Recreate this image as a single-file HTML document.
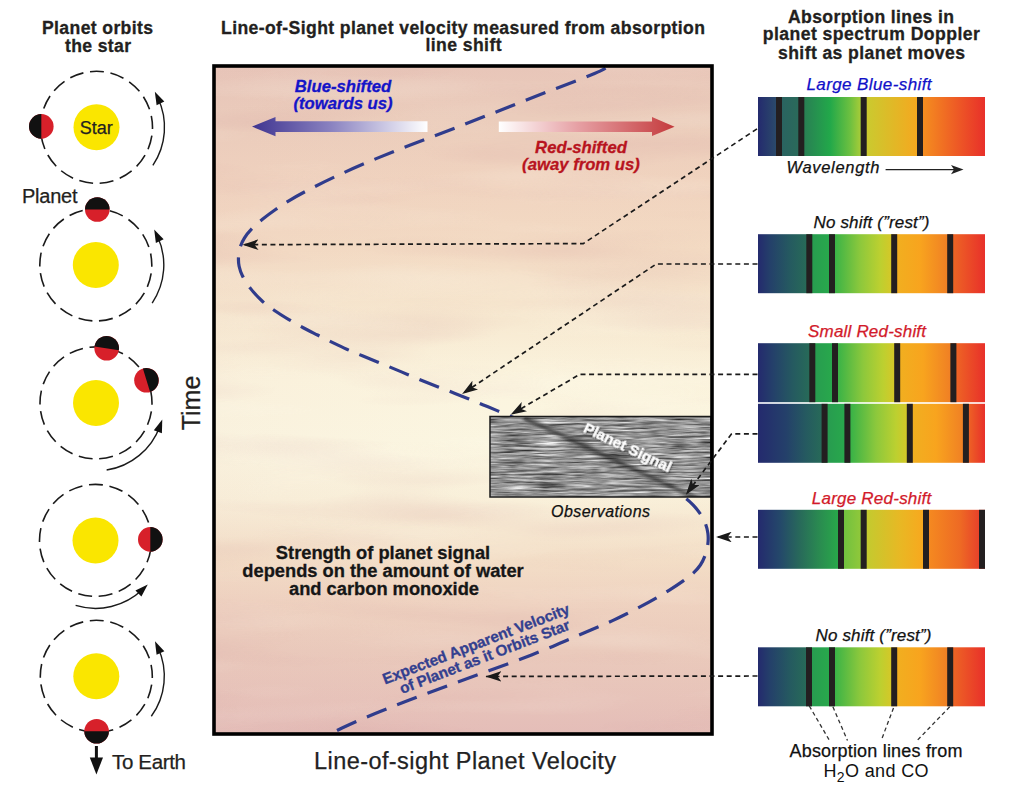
<!DOCTYPE html>
<html><head><meta charset="utf-8"><style>
html,body{margin:0;padding:0;background:#fff;}
svg{display:block;font-family:"Liberation Sans", sans-serif;}
</style></head><body>
<svg width="1024" height="792" viewBox="0 0 1024 792">
<rect width="1024" height="792" fill="#fff"/>
<defs>
<linearGradient id="spec" x1="0" x2="1" y1="0" y2="0">
<stop offset="0" stop-color="#242770"/>
<stop offset="0.10" stop-color="#253f6c"/>
<stop offset="0.22" stop-color="#2a6a5a"/>
<stop offset="0.33" stop-color="#25a34b"/>
<stop offset="0.40" stop-color="#44b846"/>
<stop offset="0.52" stop-color="#a8cc3a"/>
<stop offset="0.60" stop-color="#d6c22c"/>
<stop offset="0.68" stop-color="#f5a81f"/>
<stop offset="0.82" stop-color="#f28a22"/>
<stop offset="1" stop-color="#e8322a"/>
</linearGradient>
<linearGradient id="bg" x1="0" x2="0" y1="0" y2="1"><stop offset="0.0030" stop-color="#e8c6b9"/><stop offset="0.0808" stop-color="#ebcdbc"/><stop offset="0.1707" stop-color="#f0d3bf"/><stop offset="0.2754" stop-color="#f3dbc4"/><stop offset="0.3802" stop-color="#f7e9d1"/><stop offset="0.4701" stop-color="#fbf4de"/><stop offset="0.5599" stop-color="#fbf6e1"/><stop offset="0.6497" stop-color="#f9f0da"/><stop offset="0.7395" stop-color="#f3dec7"/><stop offset="0.7994" stop-color="#efd3c1"/><stop offset="0.8743" stop-color="#eacabc"/><stop offset="0.9491" stop-color="#e7c3ba"/><stop offset="1.0000" stop-color="#e4bdb8"/></linearGradient>
<linearGradient id="hbg" x1="0" x2="1" y1="0" y2="0"><stop offset="0" stop-color="#d8a0a8" stop-opacity="0.05"/><stop offset="0.6" stop-color="#e8b8a8" stop-opacity="0"/><stop offset="1" stop-color="#f0c8a0" stop-opacity="0.03"/></linearGradient>
<filter id="streak" x="0" y="0" width="100%" height="100%" color-interpolation-filters="sRGB">
<feTurbulence type="fractalNoise" baseFrequency="0.004 0.03" numOctaves="2" seed="4" result="t"/>
<feColorMatrix type="matrix" in="t" values="0 0 0 0 0.82  0 0 0 0 0.6  0 0 0 0 0.6  2.2 0 0 0 -1.1"/>
</filter>
<filter id="streak2" x="0" y="0" width="100%" height="100%" color-interpolation-filters="sRGB">
<feTurbulence type="fractalNoise" baseFrequency="0.004 0.03" numOctaves="2" seed="9" result="t"/>
<feColorMatrix type="matrix" in="t" values="0 0 0 0 1  0 0 0 0 1  0 0 0 0 0.95  2.2 0 0 0 -1.1"/>
</filter>
<linearGradient id="bluearr" x1="0" x2="1" y1="0" y2="0">
<stop offset="0" stop-color="#3f3490"/>
<stop offset="0.45" stop-color="#8a82c0"/>
<stop offset="1" stop-color="#ffffff"/>
</linearGradient>
<linearGradient id="redarr" x1="0" x2="1" y1="0" y2="0">
<stop offset="0" stop-color="#ffffff"/>
<stop offset="0.45" stop-color="#e6a0a4"/>
<stop offset="1" stop-color="#c43a3c"/>
</linearGradient>
<filter id="noise" x="0" y="0" width="100%" height="100%" color-interpolation-filters="sRGB">
<feTurbulence type="fractalNoise" baseFrequency="0.03 0.5" numOctaves="3" seed="11" result="t"/>
<feColorMatrix type="matrix" in="t" values="0.33 0.33 0.33 0 0  0.33 0.33 0.33 0 0  0.33 0.33 0.33 0 0  0 0 0 0 1" result="g"/>
<feComponentTransfer in="g"><feFuncR type="linear" slope="1.7" intercept="-0.27"/><feFuncG type="linear" slope="1.7" intercept="-0.27"/><feFuncB type="linear" slope="1.7" intercept="-0.27"/></feComponentTransfer>
</filter>
<clipPath id="obsclip"><rect x="490" y="416.5" width="221" height="80.5"/></clipPath>
<filter id="blur3" x="-20%" y="-50%" width="140%" height="200%"><feGaussianBlur stdDeviation="1.4"/></filter>
<filter id="tshadow" x="-10%" y="-30%" width="120%" height="160%"><feDropShadow dx="0.5" dy="0.8" stdDeviation="0.8" flood-color="#000" flood-opacity="0.8"/></filter>
<marker id="ah" viewBox="0 0 16 10.6" refX="15.5" refY="5.3" markerWidth="16" markerHeight="10.6" markerUnits="userSpaceOnUse" orient="auto">
<path d="M0,0 L16,5.3 L0,10.6 L4,5.3 Z" fill="#1a1a1a"/></marker>
</defs>
<text x="97.5" y="33.8" font-size="17.6" font-weight="bold" font-style="normal" fill="#231f20" text-anchor="middle" textLength="111" lengthAdjust="spacing" stroke="#231f20" stroke-width="0.3" >Planet orbits</text>
<text x="98" y="51.8" font-size="17.6" font-weight="bold" font-style="normal" fill="#231f20" text-anchor="middle" textLength="66" lengthAdjust="spacing" stroke="#231f20" stroke-width="0.3" >the star</text>
<text x="22" y="202.8" font-size="20" font-weight="normal" font-style="normal" fill="#231f20" text-anchor="start" textLength="55.5" lengthAdjust="spacing" stroke="#231f20" stroke-width="0.25" >Planet</text>
<circle cx="96.5" cy="127.3" r="56" fill="none" stroke="#1a1a1a" stroke-width="1.6" stroke-dasharray="14 6.7" stroke-dashoffset="-8.5"/>
<circle cx="96.5" cy="127.3" r="23" fill="#fae600"/>
<circle cx="95.8" cy="265" r="56" fill="none" stroke="#1a1a1a" stroke-width="1.6" stroke-dasharray="14 6.7" stroke-dashoffset="-8.5"/>
<circle cx="95.8" cy="265" r="23" fill="#fae600"/>
<circle cx="96" cy="402.9" r="56" fill="none" stroke="#1a1a1a" stroke-width="1.6" stroke-dasharray="14 6.7" stroke-dashoffset="-8.5"/>
<circle cx="96" cy="402.9" r="23" fill="#fae600"/>
<circle cx="95.5" cy="540.4" r="56" fill="none" stroke="#1a1a1a" stroke-width="1.6" stroke-dasharray="14 6.7" stroke-dashoffset="-8.5"/>
<circle cx="95.5" cy="540.4" r="23" fill="#fae600"/>
<circle cx="96.3" cy="676.3" r="56" fill="none" stroke="#1a1a1a" stroke-width="1.6" stroke-dasharray="14 6.7" stroke-dashoffset="-8.5"/>
<circle cx="96.3" cy="676.3" r="23" fill="#fae600"/>
<text x="96.3" y="133.8" font-size="18" font-weight="normal" font-style="normal" fill="#231f20" text-anchor="middle" stroke="#231f20" stroke-width="0.25" >Star</text>
<path d="M152.87,165.33 A68,68 0 0 0 157.88,98.03" fill="none" stroke="#1a1a1a" stroke-width="1.4"/>
<path d="M154.86,91.71 L164.34,101.59 L156.58,105.29 Z" fill="#111"/>
<path d="M152.17,303.03 A68,68 0 0 0 157.18,235.73" fill="none" stroke="#1a1a1a" stroke-width="1.4"/>
<path d="M154.16,229.41 L163.64,239.29 L155.88,242.99 Z" fill="#111"/>
<path d="M106.64,470.06 A68,68 0 0 0 159.90,426.16" fill="none" stroke="#1a1a1a" stroke-width="1.4"/>
<path d="M162.29,419.58 L161.89,433.27 L153.81,430.32 Z" fill="#111"/>
<path d="M75.62,605.43 A68,68 0 0 0 142.74,589.32" fill="none" stroke="#1a1a1a" stroke-width="1.4"/>
<path d="M147.77,584.45 L141.41,596.58 L135.43,590.39 Z" fill="#111"/>
<path d="M151.31,716.27 A68,68 0 0 0 157.93,647.56" fill="none" stroke="#1a1a1a" stroke-width="1.4"/>
<path d="M154.97,641.22 L164.36,651.18 L156.57,654.82 Z" fill="#111"/>
<circle cx="41.3" cy="126.4" r="12.3" fill="#d7202a"/>
<path d="M41.30,114.10 A12.3,12.3 0 0 0 41.30,138.70 Z" fill="#111"/>
<circle cx="97.3" cy="209.5" r="12.3" fill="#d7202a"/>
<path d="M109.60,209.50 A12.3,12.3 0 0 0 85.00,209.50 Z" fill="#111"/>
<circle cx="106.7" cy="348.3" r="12.3" fill="#d7202a"/>
<path d="M118.85,350.22 A12.3,12.3 0 0 0 94.55,346.38 Z" fill="#111"/>
<circle cx="146.5" cy="380.3" r="12.3" fill="#d7202a"/>
<path d="M150.10,392.06 A12.3,12.3 0 0 0 142.90,368.54 Z" fill="#111"/>
<circle cx="150.3" cy="539.4" r="12.3" fill="#d7202a"/>
<path d="M150.30,551.70 A12.3,12.3 0 0 0 150.30,527.10 Z" fill="#111"/>
<circle cx="96.6" cy="731.3" r="12.3" fill="#d7202a"/>
<path d="M84.30,731.30 A12.3,12.3 0 0 0 108.90,731.30 Z" fill="#111"/>
<path d="M96.4,746 L96.4,760" stroke="#111" stroke-width="3"/>
<path d="M89.8,757.5 L103,757.5 L96.4,774.5 Z" fill="#111"/>
<text x="112" y="769" font-size="20.5" font-weight="normal" font-style="normal" fill="#231f20" text-anchor="start" textLength="74" lengthAdjust="spacing" stroke="#231f20" stroke-width="0.25" >To Earth</text>
<text x="199.5" y="403" font-size="25" font-weight="normal" font-style="normal" fill="#231f20" text-anchor="middle" stroke="#231f20" stroke-width="0.25" transform="rotate(-90 199.5 403)">Time</text>
<text x="463" y="33.6" font-size="17.6" font-weight="bold" font-style="normal" fill="#231f20" text-anchor="middle" textLength="484" lengthAdjust="spacing" stroke="#231f20" stroke-width="0.3" >Line-of-Sight planet velocity measured from absorption</text>
<text x="463.5" y="50.8" font-size="17.6" font-weight="bold" font-style="normal" fill="#231f20" text-anchor="middle" textLength="76" lengthAdjust="spacing" stroke="#231f20" stroke-width="0.3" >line shift</text>
<rect x="214" y="66" width="498" height="668" fill="url(#bg)"/>
<rect x="214" y="66" width="498" height="668" fill="url(#hbg)"/>
<rect x="214" y="66" width="498" height="668" fill="#fff" filter="url(#streak)" opacity="0.2"/>
<rect x="214" y="66" width="498" height="668" fill="#fff" filter="url(#streak2)" opacity="0.2"/>
<path d="M252,126.6 L275.5,116.9 L275.5,121.2 L427.5,121.2 L427.5,132.1 L275.5,132.1 L275.5,136.3 Z" fill="url(#bluearr)"/>
<path d="M674.6,126.8 L652,117.1 L652,121.6 L498.8,121.6 L498.8,132 L652,132 L652,135.9 Z" fill="url(#redarr)"/>
<text x="343" y="91.5" font-size="16.7" font-weight="bold" font-style="italic" fill="#1414c8" text-anchor="middle" stroke="#1414c8" stroke-width="0.3" >Blue-shifted</text>
<text x="343" y="109" font-size="16.7" font-weight="bold" font-style="italic" fill="#1414c8" text-anchor="middle" stroke="#1414c8" stroke-width="0.3" >(towards us)</text>
<text x="581" y="153.4" font-size="16.7" font-weight="bold" font-style="italic" fill="#b8141e" text-anchor="middle" stroke="#b8141e" stroke-width="0.3" >Red-shifted</text>
<text x="581" y="169.5" font-size="16.7" font-weight="bold" font-style="italic" fill="#b8141e" text-anchor="middle" stroke="#b8141e" stroke-width="0.3" >(away from us)</text>
<text x="383" y="558.6" font-size="18.3" font-weight="bold" font-style="normal" fill="#161616" text-anchor="middle" stroke="#161616" stroke-width="0.3" >Strength of planet signal</text>
<text x="383" y="577.4" font-size="18.3" font-weight="bold" font-style="normal" fill="#161616" text-anchor="middle" stroke="#161616" stroke-width="0.3" >depends on the amount of water</text>
<text x="384" y="595" font-size="18.3" font-weight="bold" font-style="normal" fill="#161616" text-anchor="middle" stroke="#161616" stroke-width="0.3" >and carbon monoxide</text>
<path id="curve" d="M608.6,66 C607.17,66.85 605.26,68.70 600.02,71.1 C594.78,73.50 586.01,76.94 577.17,80.42 C568.33,83.90 557.16,88.03 547.0,91.95 C536.84,95.87 526.48,99.93 516.23,103.95 C505.98,107.97 495.69,112.10 485.48,116.1 C475.28,120.10 465.13,124.06 455.0,127.97 C444.87,131.88 434.76,135.69 424.68,139.57 C414.60,143.44 404.58,147.22 394.53,151.22 C384.48,155.22 374.37,159.32 364.4,163.6 C354.43,167.88 344.07,172.50 334.7,176.9 C325.32,181.30 315.73,186.06 308.15,190.0 C300.57,193.94 294.66,197.29 289.23,200.55 C283.80,203.81 280.01,206.42 275.55,209.55 C271.09,212.68 266.43,216.10 262.45,219.32 C258.47,222.54 254.71,225.76 251.7,228.88 C248.69,232.00 246.32,234.93 244.38,238.03 C242.44,241.13 241.03,244.30 240.05,247.5 C239.07,250.70 238.66,254.10 238.5,257.23 C238.34,260.36 238.47,263.19 239.12,266.27 C239.77,269.34 240.55,272.04 242.4,275.68 C244.25,279.32 247.01,283.94 250.25,288.12 C253.49,292.30 257.75,297.02 261.85,300.78 C265.95,304.54 270.35,307.57 274.85,310.7 C279.36,313.83 284.15,316.74 288.88,319.58 C293.61,322.42 298.45,325.17 303.23,327.75 C308.01,330.33 312.73,332.61 317.57,335.05 C322.41,337.49 327.31,339.98 332.27,342.38 C337.23,344.78 342.30,347.21 347.32,349.45 C352.34,351.69 357.36,353.73 362.38,355.82 C367.40,357.91 372.41,359.93 377.42,361.98 C382.43,364.03 387.44,366.05 392.45,368.12 C397.46,370.19 402.47,372.33 407.48,374.43 C412.49,376.53 417.50,378.68 422.52,380.73 C427.54,382.78 432.56,384.77 437.58,386.73 C442.60,388.69 447.62,390.55 452.63,392.5 C457.64,394.45 462.64,396.41 467.65,398.43 C472.66,400.45 477.67,402.57 482.68,404.65 C487.69,406.72 491.46,408.27 497.73,410.88 C504.00,413.49 509.89,415.89 520.3,420.3 C530.71,424.71 545.64,431.00 560.17,437.32 C574.70,443.64 593.28,451.80 607.5,458.25 C621.72,464.70 635.09,470.98 645.5,476.0 C655.91,481.02 663.55,484.88 669.98,488.4 C676.41,491.92 680.24,494.35 684.08,497.1 C687.92,499.86 690.33,502.17 693.0,504.93 C695.67,507.69 698.07,510.60 700.12,513.68 C702.17,516.75 704.02,520.11 705.32,523.38 C706.62,526.65 707.47,529.94 707.9,533.33 C708.33,536.72 708.33,540.14 707.9,543.72 C707.47,547.30 706.57,551.28 705.32,554.83 C704.07,558.38 702.39,561.96 700.38,565.0 C698.37,568.04 696.19,570.39 693.27,573.08 C690.35,575.77 686.86,578.31 682.88,581.15 C678.90,583.99 674.02,587.21 669.4,590.12 C664.78,593.03 659.91,595.90 655.17,598.62 C650.43,601.34 645.69,603.90 640.95,606.42 C636.21,608.94 631.48,611.38 626.75,613.75 C622.02,616.12 617.36,618.41 612.55,620.62 C607.74,622.83 603.45,624.62 597.88,627.02 C592.31,629.42 586.68,631.79 579.15,635.02 C571.62,638.25 562.39,642.40 552.7,646.4 C543.01,650.40 531.63,654.93 520.98,659.0 C510.33,663.07 499.42,666.95 488.82,670.8 C478.22,674.65 467.75,678.33 457.38,682.12 C447.01,685.91 436.75,689.73 426.62,693.55 C416.49,697.37 406.60,701.12 396.58,705.05 C386.56,708.98 375.58,713.32 366.5,717.15 C357.42,720.98 348.32,725.16 342.07,728.05 C335.82,730.94 331.18,733.42 329,734.5" fill="none" stroke="#303c8c" stroke-width="3.2" stroke-dasharray="21 11.5" stroke-dashoffset="-3.75"/>
<rect x="490" y="416.5" width="221" height="80.5" fill="#8c8c8c"/>
<rect x="490" y="416.5" width="221" height="80.5" fill="#fff" filter="url(#noise)"/>
<path clip-path="url(#obsclip)" d="M524,418 L702,501" stroke="#151515" stroke-width="4.5" fill="none" opacity="0.6" filter="url(#blur3)"/>
<rect x="490" y="416.5" width="221" height="80.5" fill="none" stroke="#1a1a1a" stroke-width="1.5"/>
<text x="0" y="0" font-size="15.2" font-weight="bold" font-style="normal" fill="#ffffff" text-anchor="start" stroke="#ffffff" stroke-width="0.3" transform="translate(582.4,431.5) rotate(25.4)" filter="url(#tshadow)">Planet Signal</text>
<text x="600.5" y="517.2" font-size="16" font-weight="normal" font-style="italic" fill="#111" text-anchor="middle" textLength="99" lengthAdjust="spacing" stroke="#111" stroke-width="0.25" >Observations</text>
<text x="0" y="0" font-size="15.3" font-weight="bold" font-style="normal" fill="#33408f" text-anchor="start" textLength="199" lengthAdjust="spacing" stroke="#33408f" stroke-width="0.3" transform="translate(385,684.5) rotate(-21)">Expected Apparent Velocity</text>
<text x="0" y="0" font-size="15.3" font-weight="bold" font-style="normal" fill="#33408f" text-anchor="start" textLength="181" lengthAdjust="spacing" stroke="#33408f" stroke-width="0.3" transform="translate(402,694) rotate(-21)">of Planet as it Orbits Star</text>
<rect x="214" y="66" width="498" height="668" fill="none" stroke="#000" stroke-width="3.6"/>
<text x="465" y="769" font-size="23.5" font-weight="normal" font-style="normal" fill="#222" text-anchor="middle" textLength="302" lengthAdjust="spacing" stroke="#222" stroke-width="0.25" >Line-of-sight Planet Velocity</text>
<path d="M757,128.9 L583.2,243.6 L243,244.7" fill="none" stroke="#1a1a1a" stroke-width="1.7" stroke-dasharray="5 3.6" marker-end="url(#ah)"/>
<path d="M757.5,264 L656.25,264 L462.5,393.75" fill="none" stroke="#1a1a1a" stroke-width="1.7" stroke-dasharray="5 3.6" marker-end="url(#ah)"/>
<path d="M757.5,374.4 L579.7,374.4 L511,414.5" fill="none" stroke="#1a1a1a" stroke-width="1.7" stroke-dasharray="5 3.6" marker-end="url(#ah)"/>
<path d="M757.5,433.8 L731.6,433.8 L686.2,494.3" fill="none" stroke="#1a1a1a" stroke-width="1.7" stroke-dasharray="5 3.6" marker-end="url(#ah)"/>
<path d="M757.5,537 L716.2,537" fill="none" stroke="#1a1a1a" stroke-width="1.7" stroke-dasharray="5 3.6" marker-end="url(#ah)"/>
<path d="M757.5,676 L486,676.5" fill="none" stroke="#1a1a1a" stroke-width="1.7" stroke-dasharray="5 3.6" marker-end="url(#ah)"/>
<text x="871" y="22.5" font-size="17.6" font-weight="bold" font-style="normal" fill="#231f20" text-anchor="middle" textLength="166" lengthAdjust="spacing" stroke="#231f20" stroke-width="0.3" >Absorption lines in</text>
<text x="871.3" y="39.8" font-size="17.6" font-weight="bold" font-style="normal" fill="#231f20" text-anchor="middle" textLength="217" lengthAdjust="spacing" stroke="#231f20" stroke-width="0.3" >planet spectrum Doppler</text>
<text x="871.5" y="58.6" font-size="17.6" font-weight="bold" font-style="normal" fill="#231f20" text-anchor="middle" textLength="187" lengthAdjust="spacing" stroke="#231f20" stroke-width="0.3" >shift as planet moves</text>
<linearGradient id="sp0" x1="0" x2="1" y1="0" y2="0"><stop offset="0.0000" stop-color="#242a6e"/><stop offset="0.0793" stop-color="#2a4a6a"/><stop offset="0.0925" stop-color="#2a6262"/><stop offset="0.1762" stop-color="#2a6a5a"/><stop offset="0.1894" stop-color="#2a7a55"/><stop offset="0.3172" stop-color="#22a84a"/><stop offset="0.4053" stop-color="#6cc040"/><stop offset="0.4537" stop-color="#a8cc38"/><stop offset="0.4670" stop-color="#c8cc30"/><stop offset="0.7004" stop-color="#f5a81f"/><stop offset="0.7137" stop-color="#f5921f"/><stop offset="1.0000" stop-color="#e8302a"/></linearGradient>
<rect x="758" y="97" width="227" height="59" fill="url(#sp0)"/>
<rect x="776" y="97" width="6" height="59" fill="#231f20"/>
<rect x="798.3" y="97" width="6" height="59" fill="#231f20"/>
<rect x="860.7" y="97" width="6" height="59" fill="#231f20"/>
<rect x="917" y="97" width="6" height="59" fill="#231f20"/>
<linearGradient id="sp1" x1="0" x2="1" y1="0" y2="0"><stop offset="0.0000" stop-color="#242a6e"/><stop offset="0.0529" stop-color="#24406a"/><stop offset="0.1410" stop-color="#255a60"/><stop offset="0.2115" stop-color="#276a58"/><stop offset="0.2247" stop-color="#289a50"/><stop offset="0.3128" stop-color="#28a84c"/><stop offset="0.3260" stop-color="#30b048"/><stop offset="0.4493" stop-color="#8cc83c"/><stop offset="0.5374" stop-color="#bcd030"/><stop offset="0.5859" stop-color="#d4c828"/><stop offset="0.5991" stop-color="#f0b020"/><stop offset="0.7137" stop-color="#f8a41e"/><stop offset="0.8326" stop-color="#f08024"/><stop offset="0.8458" stop-color="#ee6a24"/><stop offset="1.0000" stop-color="#e8302a"/></linearGradient>
<rect x="758" y="234.2" width="227" height="59" fill="url(#sp1)"/>
<rect x="806.3" y="234.2" width="6" height="59" fill="#231f20"/>
<rect x="829" y="234.2" width="6" height="59" fill="#231f20"/>
<rect x="891.2" y="234.2" width="6" height="59" fill="#231f20"/>
<rect x="947.2" y="234.2" width="6" height="59" fill="#231f20"/>
<linearGradient id="sp2" x1="0" x2="1" y1="0" y2="0"><stop offset="0.0000" stop-color="#242a6e"/><stop offset="0.0661" stop-color="#24406a"/><stop offset="0.1542" stop-color="#255a60"/><stop offset="0.2247" stop-color="#276a58"/><stop offset="0.2379" stop-color="#289a50"/><stop offset="0.3260" stop-color="#28a84c"/><stop offset="0.3392" stop-color="#30b048"/><stop offset="0.4626" stop-color="#8cc83c"/><stop offset="0.5507" stop-color="#bcd030"/><stop offset="0.5991" stop-color="#d4c828"/><stop offset="0.6123" stop-color="#f0b020"/><stop offset="0.7269" stop-color="#f8a41e"/><stop offset="0.8458" stop-color="#f08024"/><stop offset="0.8590" stop-color="#ee6a24"/><stop offset="1.0000" stop-color="#e8302a"/></linearGradient>
<rect x="758" y="343.2" width="227" height="59" fill="url(#sp2)"/>
<rect x="809.3" y="343.2" width="6" height="59" fill="#231f20"/>
<rect x="832" y="343.2" width="6" height="59" fill="#231f20"/>
<rect x="894.2" y="343.2" width="6" height="59" fill="#231f20"/>
<rect x="950.4" y="343.2" width="6" height="59" fill="#231f20"/>
<linearGradient id="sp3" x1="0" x2="1" y1="0" y2="0"><stop offset="0.0000" stop-color="#242a6e"/><stop offset="0.1233" stop-color="#24406a"/><stop offset="0.2115" stop-color="#255a60"/><stop offset="0.2819" stop-color="#276a58"/><stop offset="0.2952" stop-color="#289a50"/><stop offset="0.3833" stop-color="#28a84c"/><stop offset="0.3965" stop-color="#30b048"/><stop offset="0.5198" stop-color="#8cc83c"/><stop offset="0.6079" stop-color="#bcd030"/><stop offset="0.6564" stop-color="#d4c828"/><stop offset="0.6696" stop-color="#f0b020"/><stop offset="0.7841" stop-color="#f8a41e"/><stop offset="0.9031" stop-color="#f08024"/><stop offset="0.9163" stop-color="#ee6a24"/><stop offset="1.0000" stop-color="#e8302a"/></linearGradient>
<rect x="758" y="403.8" width="227" height="59" fill="url(#sp3)"/>
<rect x="821.6" y="403.8" width="6" height="59" fill="#231f20"/>
<rect x="844.4" y="403.8" width="6" height="59" fill="#231f20"/>
<rect x="906.8" y="403.8" width="6" height="59" fill="#231f20"/>
<rect x="962.9" y="403.8" width="6" height="59" fill="#231f20"/>
<linearGradient id="sp4" x1="0" x2="1" y1="0" y2="0"><stop offset="0.0000" stop-color="#242a6e"/><stop offset="0.0969" stop-color="#24486a"/><stop offset="0.1850" stop-color="#286a5a"/><stop offset="0.2731" stop-color="#2a8c50"/><stop offset="0.3524" stop-color="#28a84a"/><stop offset="0.3656" stop-color="#6cc040"/><stop offset="0.4537" stop-color="#90c83a"/><stop offset="0.4670" stop-color="#c0cc30"/><stop offset="0.6256" stop-color="#e8b824"/><stop offset="0.7269" stop-color="#f8a81e"/><stop offset="0.7401" stop-color="#f58c20"/><stop offset="0.8899" stop-color="#ee6a24"/><stop offset="0.9736" stop-color="#e8422a"/><stop offset="1.0000" stop-color="#e83a2a"/></linearGradient>
<rect x="758" y="509.8" width="227" height="59" fill="url(#sp4)"/>
<rect x="838" y="509.8" width="6" height="59" fill="#231f20"/>
<rect x="860.7" y="509.8" width="6" height="59" fill="#231f20"/>
<rect x="923" y="509.8" width="6" height="59" fill="#231f20"/>
<rect x="979" y="509.8" width="6" height="59" fill="#231f20"/>
<linearGradient id="sp5" x1="0" x2="1" y1="0" y2="0"><stop offset="0.0000" stop-color="#242a6e"/><stop offset="0.0529" stop-color="#24406a"/><stop offset="0.1410" stop-color="#255a60"/><stop offset="0.2115" stop-color="#276a58"/><stop offset="0.2247" stop-color="#289a50"/><stop offset="0.3128" stop-color="#28a84c"/><stop offset="0.3260" stop-color="#30b048"/><stop offset="0.4493" stop-color="#8cc83c"/><stop offset="0.5374" stop-color="#bcd030"/><stop offset="0.5859" stop-color="#d4c828"/><stop offset="0.5991" stop-color="#f0b020"/><stop offset="0.7137" stop-color="#f8a41e"/><stop offset="0.8326" stop-color="#f08024"/><stop offset="0.8458" stop-color="#ee6a24"/><stop offset="1.0000" stop-color="#e8302a"/></linearGradient>
<rect x="758" y="647.3" width="227" height="59" fill="url(#sp5)"/>
<rect x="806" y="647.3" width="6" height="59" fill="#231f20"/>
<rect x="829" y="647.3" width="6" height="59" fill="#231f20"/>
<rect x="891.2" y="647.3" width="6" height="59" fill="#231f20"/>
<rect x="947.2" y="647.3" width="6" height="59" fill="#231f20"/>
<text x="869" y="89.9" font-size="17" font-weight="normal" font-style="italic" fill="#1010c8" text-anchor="middle" textLength="125" lengthAdjust="spacing" stroke="#1010c8" stroke-width="0.25" >Large Blue-shift</text>
<text x="833" y="173.3" font-size="16.5" font-weight="normal" font-style="italic" fill="#111" text-anchor="middle" textLength="93" lengthAdjust="spacing" stroke="#111" stroke-width="0.25" >Wavelength</text>
<path d="M885.6,169.6 L955,169.6" stroke="#222" stroke-width="1.4"/>
<path d="M963.5,169.6 L951,165 L954,169.6 L951,174.2 Z" fill="#222"/>
<text x="871.5" y="227.6" font-size="17" font-weight="normal" font-style="italic" fill="#111" text-anchor="middle" textLength="116" lengthAdjust="spacing" stroke="#111" stroke-width="0.25" >No shift (”rest”)</text>
<text x="867" y="337.2" font-size="17" font-weight="normal" font-style="italic" fill="#d21a2a" text-anchor="middle" textLength="118" lengthAdjust="spacing" stroke="#d21a2a" stroke-width="0.25" >Small Red-shift</text>
<text x="871.5" y="503.7" font-size="17" font-weight="normal" font-style="italic" fill="#d21a2a" text-anchor="middle" textLength="119.5" lengthAdjust="spacing" stroke="#d21a2a" stroke-width="0.25" >Large Red-shift</text>
<text x="873.5" y="640.7" font-size="17" font-weight="normal" font-style="italic" fill="#111" text-anchor="middle" textLength="116" lengthAdjust="spacing" stroke="#111" stroke-width="0.25" >No shift (”rest”)</text>
<g stroke="#333" stroke-width="1.3" stroke-dasharray="4 3" fill="none">
<path d="M809.3,706 L829.5,740.5"/><path d="M832.9,706.8 L847.5,740.5"/><path d="M893.5,708 L881.2,740.5"/><path d="M949.7,706.8 L916,741.7"/>
</g>
<text x="876" y="757.4" font-size="18" font-weight="normal" font-style="normal" fill="#111" text-anchor="middle" textLength="173" lengthAdjust="spacing" stroke="#111" stroke-width="0.25" >Absorption lines from</text>
<text x="876" y="776.5" font-size="18" fill="#111" text-anchor="middle" textLength="105" lengthAdjust="spacing">H<tspan font-size="14" dy="5">2</tspan><tspan dy="-5">O and CO</tspan></text>
</svg>
</body></html>
